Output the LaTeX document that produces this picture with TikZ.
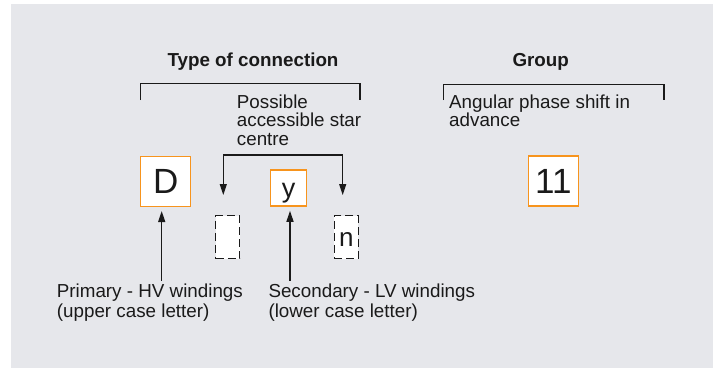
\documentclass[tikz,border=0pt]{standalone}
\usepackage{fontspec}
\setmainfont{Liberation Sans}
\usetikzlibrary{arrows.meta}
\definecolor{bg}{HTML}{E6E7EB}
\definecolor{orng}{HTML}{F7941D}
\definecolor{ink}{HTML}{1A1A1A}
\begin{document}
\begin{tikzpicture}[x=1pt,y=-1pt,
  head/.style={font=\fontsize{18.8}{20}\selectfont\bfseries, text=ink, inner sep=0, anchor=base},
  lbl/.style={font=\fontsize{18.8}{20}\selectfont, text=ink, inner sep=0, align=left, anchor=base west},
  obox/.style={draw=orng, line width=1.5pt, fill=white, inner sep=0, text=ink},
  dbox/.style={draw=ink, dash pattern=on 8pt off 4pt, line width=1.3pt, fill=white, inner sep=0,
               minimum width=24pt, minimum height=43pt, text=ink},
  brk/.style={draw=ink, line width=1.3pt},
  arr/.style={draw=ink, line width=1.3pt, -{Triangle[length=11pt,width=7pt]}},
  arrb/.style={draw=ink, line width=1.3pt, {Triangle[length=11pt,width=7pt]}-{Triangle[length=11pt,width=7pt]}},
  small/.style={font=\fontsize{27}{30}\selectfont, text height=24pt, text depth=5.5pt}
]
\useasboundingbox (0,0) rectangle (720,368);
\fill[bg] (11,4) rectangle (713,368);

% headings
\node[head] (hconn) at (253,66) {Type of connection};
\node[head] (hgrp) at (540.7,66) {Group};

% brackets
\coordinate (b1l) at (140.7,100);
\coordinate (b1r) at (360,100);
\draw[brk] (b1l) -- ++(0,-16.7) -| (b1r);
\coordinate (b2l) at (443.3,100);
\coordinate (b2r) at (664,100);
\draw[brk] (b2l) -- ++(0,-15.7) -| (b2r);

% boxes
\node[obox, minimum width=50pt, minimum height=50pt, font=\fontsize{35}{35}\selectfont] (D) at (165.7,181.3) {D};
\node[obox, minimum width=36pt, minimum height=36pt, small] (yb) at (288.7,188) {y};
\node[dbox] (d1) at (227.8,237.3) {};
\node[dbox, small, font=\fontsize{26}{30}\selectfont] (d2) at (346.3,237.3) {n};
\node[obox, minimum width=50pt, minimum height=50pt, font=\fontsize{35}{35}\selectfont] (G) at (553.3,181) {11};

% labels (base anchor = baseline of last line)
\node[lbl, font=\fontsize{18.8}{18.5}\selectfont] (star) at (236.7,145.3) {Possible\\accessible star\\centre};
\node[lbl, font=\fontsize{18.8}{18.4}\selectfont] (ang) at (449,126.7) {Angular phase shift in\\advance};
\node[lbl] (prim) at (56.7,317.3) {Primary - HV windings\\(upper case letter)};
\node[lbl] (sec) at (268.3,317.3) {Secondary - LV windings\\(lower case letter)};

% star arrows
\coordinate (sL) at (223.3,195);
\coordinate (sR) at (342.7,195);
\coordinate (sTop) at (283,155);
\draw[arrb] (sL) |- (sTop) -| (sR);

% winding arrows
\coordinate (pFoot) at (161.7,280.7);
\coordinate (sFoot) at (290,280.7);
\draw[arr, shorten >=4pt] (pFoot) -- (pFoot |- D.south);
\draw[arr, shorten >=4pt] (sFoot) -- (sFoot |- yb.south);
\end{tikzpicture}
\end{document}
